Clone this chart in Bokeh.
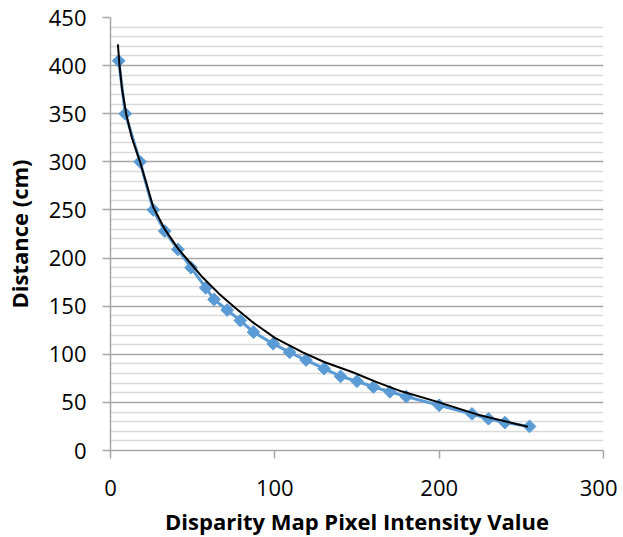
import numpy as np
from bokeh.plotting import figure
from bokeh.models import FixedTicker, Range1d
from bokeh.embed import file_html
from bokeh.resources import INLINE

# Data
disparity = [5, 9, 18, 26, 33, 41, 49, 58, 63, 71, 79, 87, 99, 109, 119,
             130, 140, 150, 160, 170, 180, 200, 220, 230, 240, 255]
distance = [405, 350, 300, 250, 228, 209, 190, 169, 157, 146, 135, 123, 111, 102, 94,
            85, 77, 72, 66, 61, 56, 47, 38, 33, 29, 25]

# Trendline
trend_x = [4.5, 5.5, 7, 9.5, 13, 18, 26, 33, 41, 50, 56, 66, 76, 86, 100,
           117, 130, 147, 162, 177, 199, 223, 254]
trend_y = [422, 400, 376, 350, 325, 300, 253, 230, 210, 192, 180, 163, 148, 134, 117,
           102, 92, 81.6, 71, 61.5, 50.5, 37.5, 24.6]

x_ticks = [0, 100, 200, 300]
y_ticks = [0, 50, 100, 150, 200, 250, 300, 350, 400, 450]
y_minor = [v for v in range(0, 451, 10) if v % 50 != 0]

FONT = "Open Sans"

p = figure(frame_width=493, frame_height=433,
           x_range=Range1d(0, 300), y_range=Range1d(0, 450),
           output_backend="svg", toolbar_location=None,
           min_border_left=100, min_border_right=14,
           min_border_top=17, min_border_bottom=70)
p.outline_line_color = None
p.background_fill_color = "white"
p.border_fill_color = "white"

p.xgrid.visible = False
p.xaxis.ticker = FixedTicker(ticks=x_ticks)
p.yaxis.ticker = FixedTicker(ticks=y_ticks, minor_ticks=y_minor)
p.ygrid.grid_line_color = "#a6a6a6"
p.ygrid.grid_line_width = 1.5
p.ygrid.minor_grid_line_color = "#d9d9d9"
p.ygrid.minor_grid_line_width = 1.5

for ax in (p.xaxis[0], p.yaxis[0]):
    ax.axis_line_color = "#a6a6a6"
    ax.axis_line_width = 1.5
    ax.major_tick_line_color = "#a6a6a6"
    ax.major_tick_line_width = 1.5
    ax.major_tick_in = 0
    ax.major_tick_out = 8
    ax.minor_tick_line_color = None
    ax.major_label_text_font = FONT
    ax.major_label_text_font_size = "22px"
    ax.major_label_text_color = "black"
    ax.axis_label_text_font = FONT
    ax.axis_label_text_font_size = "22px"
    ax.axis_label_text_font_style = "bold"
    ax.axis_label_text_color = "black"

p.xaxis.axis_label = "Disparity Map Pixel Intensity Value"
p.yaxis.axis_label = "Distance (cm)"
p.xaxis.major_label_standoff = 21
p.yaxis.major_label_standoff = 16
p.xaxis.axis_label_standoff = 7
p.yaxis.axis_label_standoff = 12

blue = "#5B9BD5"
p.line(disparity, distance, line_color=blue, line_width=3)
p.scatter(disparity, distance, marker="square", size=9, angle=np.pi / 4,
          fill_color=blue, line_color=blue, line_width=1)
p.line(trend_x, trend_y, line_color="black", line_width=2)

open("out.html", "w").write(file_html(p, INLINE))
